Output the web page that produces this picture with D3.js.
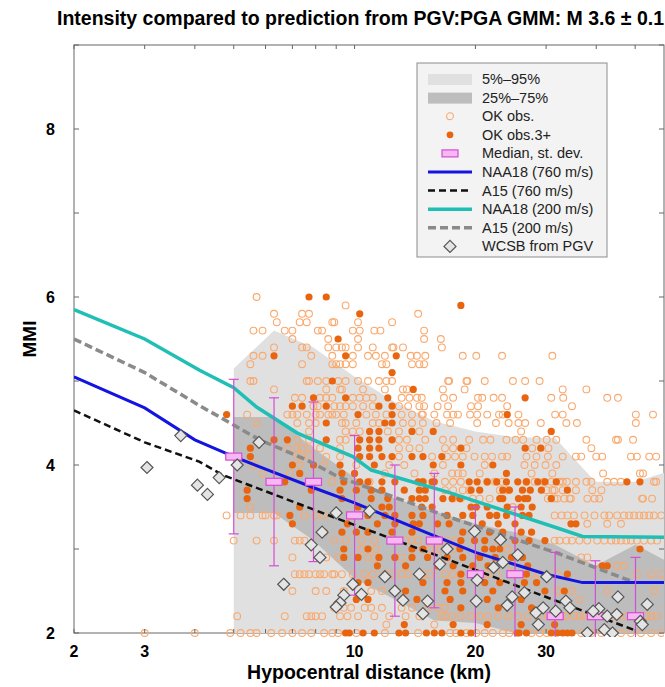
<!DOCTYPE html>
<html>
<head>
<meta charset="utf-8">
<script src="https://cdn.jsdelivr.net/npm/d3@7"></script>
<style>
  body { margin: 0; background: #fff; }
  text { font-family: "Liberation Sans", Arial, sans-serif; }
</style>
</head>
<body>
<div id="chart"></div>
<script>
// MMI vs hypocentral distance, observations + GMM predictions

// binned statistics (log-spaced bins)
var binKm = [5.0, 6.3, 7.9, 10, 12.6, 15.8, 20, 25.1, 31.6, 39.8, 50.1];
var binMedian = [4.1, 3.8, 3.8, 3.4, 3.1, 3.1, 2.7, 2.7, 2.2, 2.2, 2.2];
var binStdev = [0.92, 1.0, 0.95, 0.95, 0.9, 0.8, 0.8, 0.8, 0.76, 0.66, 0.7];

var bandKm = [5.0, 6.3, 7.9, 10, 12.6, 15.8, 20, 25.1, 31.6, 39.8, 50.1, 63.1];
var p05 = [2.0, 2.0, 2.0, 2.0, 2.0, 2.0, 2.0, 2.0, 2.0, 2.0, 2.0, 2.0];
var p95 = [5.15, 5.6, 5.4, 5.05, 4.75, 4.52, 4.4, 4.33, 4.32, 3.8, 3.8, 3.95];
var p25 = [3.43, 3.43, 3.1, 2.65, 2.4, 2.15, 2.12, 2.0, 2.0, 2.0, 2.0, 2.0];
var p75 = [4.57, 4.57, 4.2, 3.85, 3.6, 3.45, 3.3, 3.2, 3.05, 2.8, 3.05, 2.8];

// model curves [km, MMI]
var naa18_760 = [[2, 5.05], [3, 4.68], [4, 4.3], [5, 4.1], [6, 3.95], [8, 3.72], [10, 3.55], [15, 3.2], [20, 2.96], [30, 2.7], [37, 2.6], [60, 2.6]];
var a15_760 = [[2, 4.65], [3, 4.27], [4.1, 4.04], [4.7, 3.88], [9.2, 3.35], [17.2, 2.87], [32.3, 2.37], [49.5, 2.04]];
var naa18_200 = [[2, 5.85], [3, 5.5], [4.1, 5.13], [5, 4.92], [5.7, 4.69], [7.2, 4.38], [9.9, 4.1], [11, 3.94], [17, 3.68], [32, 3.25], [37, 3.15], [60, 3.14]];
var a15_200 = [[2, 5.5], [3, 5.1], [4.1, 4.71], [5.8, 4.3], [7.6, 4.06], [9.1, 3.86], [17.2, 3.38], [32, 2.95], [50, 2.6]];

// OK observations, grouped by MMI level: [MMI, [km...]]
var okObs = [
  [6.0, [5.7]],
  [5.9, [9.5]],
  [5.8, [6.3, 7.4, 7.7, 14.4]],
  [5.7, [6.4, 7.3, 7.6, 8.8, 8.9, 10.2, 12.4]],
  [5.6, [5.6, 5.9, 6.7, 7.0, 8.1, 8.3, 9.9, 10.3, 11.2, 11.6, 14.9]],
  [5.5, [7.0, 8.6, 10.2, 14.9, 16.4]],
  [5.4, [6.3, 7.4, 7.6, 8.6, 9.0, 9.3, 9.5, 10.2, 11.1, 12.4, 12.5, 13.2, 16.5]],
  [5.3, [5.6, 5.9, 7.8, 8.8, 9.9, 10.8, 11.3, 11.9, 13.8, 14.3, 15.0, 18.6, 20.1, 23.3, 31.1]],
  [5.2, [5.5, 7.4, 8.8, 9.0, 9.2, 9.5, 9.9, 11.7, 12.0, 13.9, 14.5, 14.9]],
  [5.0, [5.5, 5.6, 7.6, 7.7, 8.1, 8.5, 9.1, 9.5, 10.2, 10.8, 11.5, 12.0, 12.4, 17.1, 17.2, 19.0, 19.1, 21.1, 24.8, 26.6, 28.9]],
  [4.9, [6.3, 8.5, 9.2, 9.3, 10.5, 11.9, 13.2, 13.5, 16.6, 18.8, 33.0, 37.8]],
  [4.8, [7.1, 7.4, 8.2, 8.5, 8.8, 9.9, 10.3, 10.7, 11.1, 13.1, 13.7, 14.3, 14.7, 16.7, 17.6, 20.3, 20.8, 22.2, 23.3, 30.9, 33.1, 42.6, 45.3]],
  [4.7, [7.9, 8.1, 8.9, 9.2, 9.5, 9.9, 10.5, 11.1, 12.9, 13.6, 14.5, 14.9, 16.1, 17.1, 19.5, 20.3, 24.0, 34.8]],
  [4.6, [5.4, 6.8, 7.0, 7.2, 7.6, 8.0, 8.2, 8.6, 8.8, 9.0, 9.4, 10.7, 11.3, 12.0, 13.1, 13.9, 14.7, 14.8, 15.8, 17.0, 17.6, 18.1, 19.4, 20.2, 21.4, 22.9, 23.4, 25.6, 31.6, 33.0, 50.2, 55.4]],
  [4.5, [5.7, 7.2, 7.7, 8.0, 9.3, 9.5, 10.1, 11.1, 11.5, 13.2, 13.9, 14.8, 16.0, 17.3, 20.2, 22.5, 24.2, 25.6, 26.6, 29.1, 33.7, 35.8, 50.2]],
  [4.4, [7.7, 9.5, 9.9, 10.3, 12.1, 12.9, 14.5, 26.0]],
  [4.3, [7.2, 7.7, 9.2, 9.5, 12.9, 13.5, 15.0, 16.6, 17.6, 19.3, 20.9, 21.8, 23.9, 25.2, 26.3, 28.4, 30.1, 31.8, 37.8, 44.8, 45.3, 49.4]],
  [4.2, [6.8, 7.2, 7.4, 7.7, 8.2, 9.2, 12.9, 13.7, 14.5, 16.8, 17.6, 19.0, 27.7, 30.4, 38.9]],
  [4.1, [7.2, 7.4, 7.7, 8.5, 9.2, 12.9, 15.6, 17.0, 17.8, 18.6, 19.9, 21.1, 22.0, 23.3, 24.0, 26.8, 28.4, 30.3, 33.0, 35.6, 36.7, 40.0, 41.4, 48.8, 50.5, 54.2, 56.4]],
  [4.0, [5.6, 7.3, 8.4, 10.1, 12.2, 13.3, 16.6, 21.1, 26.5, 28.1, 29.9, 31.8]],
  [3.9, [5.9, 6.9, 11.9, 14.1, 15.8, 17.5, 18.1, 18.6, 20.5, 27.6, 31.1, 41.6, 51.4, 52.3]],
  [3.8, [8.8, 10.9, 14.8, 16.8, 17.6, 18.4, 21.4, 22.4, 23.3, 26.8, 28.1, 29.6, 30.9, 32.4, 33.0, 33.8, 35.6, 37.8, 38.9, 42.6, 44.3, 46.1, 55.7, 56.4]],
  [3.7, [16.8, 17.6, 18.6, 19.3, 23.0, 24.0, 30.1, 31.1, 31.5, 33.0, 35.6, 39.1, 41.2]],
  [3.6, [17.6, 18.4, 19.7, 20.5, 21.7, 30.3, 31.5, 32.0, 33.3, 34.3, 34.6, 38.0, 39.6, 40.7, 52.0, 52.3, 55.1]],
  [3.5, [5.5, 24.8]],
  [3.4, [4.8, 5.2, 5.5, 5.9, 6.0, 6.3, 6.4, 7.5, 8.0, 8.4, 31.5, 32.8, 33.9, 35.2, 37.4, 39.6, 41.9, 43.1, 45.1, 46.9, 48.3, 49.7, 51.2, 52.6, 54.2, 55.7, 58.1]],
  [3.3, [38.0, 42.6, 46.1]],
  [3.1, [5.0, 5.7, 6.3, 7.1, 7.3, 7.5, 8.9, 9.5, 10.4, 11.2, 13.4, 13.9, 14.4, 17.0, 17.8, 22.8, 31.5, 32.4, 33.7, 34.8, 36.3, 38.0, 40.2, 41.9, 43.6, 44.8, 46.1, 47.5, 48.8, 50.5, 52.6, 54.8, 56.7]],
  [3.0, [10.4, 11.3, 15.4, 16.3, 17.6, 24.0]],
  [2.9, [7.0, 8.5, 9.1, 10.8, 11.2, 13.1, 36.7, 38.0]],
  [2.8, [24.6, 45.1, 46.9]],
  [2.7, [7.1, 7.3, 7.5, 7.7, 8.0, 8.2, 8.4, 8.8, 8.9, 9.3, 9.9, 10.6, 11.1, 11.9, 12.4, 13.1, 13.6, 14.8, 15.4, 16.8, 17.6, 21.5, 22.6, 26.2, 27.6, 28.9, 32.0, 50.5, 54.8, 58.1]],
  [2.5, [7.0, 8.0, 8.5, 9.4, 11.0, 11.7, 32.0, 34.8, 42.6, 55.7]],
  [2.4, [36.3]],
  [2.3, [8.9, 9.4, 9.8, 10.6, 11.0, 11.7, 13.1, 13.9, 15.2, 16.1, 16.8]],
  [2.2, [5.1, 6.7, 7.6, 7.8, 8.0, 8.3, 9.2, 9.6, 10.2, 11.2, 12.2, 13.4, 14.5, 16.5, 16.8, 17.5, 18.4, 19.5, 20.5, 21.5, 22.8, 24.2, 25.5, 27.0, 28.6, 30.3, 31.8, 32.0, 32.8, 33.5, 35.2, 36.3, 37.4, 38.5, 40.2, 41.9, 44.3, 45.6, 47.7, 49.7, 51.2, 53.5, 54.8, 56.7]],
  [2.1, [12.0, 15.8]],
  [2.0, [3.0, 4.0, 4.9, 5.2, 5.5, 5.7, 6.2, 6.6, 7.0, 7.4, 7.8, 8.4, 8.8, 9.1, 10.1, 11.9, 14.4, 17.3, 17.9, 19.0, 20.1, 21.1, 22.1, 23.4, 24.3, 27.6, 28.9, 30.1, 36.7, 38.9, 41.2, 43.6, 46.1, 48.8, 51.7, 54.8, 58.1]]
];

// OK observations with 3+ reports
var okObs3 = [
  [6.0, [7.7, 8.5]],
  [5.9, [18.4]],
  [5.8, [10.3]],
  [5.5, [9.1]],
  [5.3, [6.3, 9.5, 12.7]],
  [5.1, [12.4]],
  [5.0, [8.8]],
  [4.9, [14.0]],
  [4.8, [7.9, 9.5, 12.1, 26.6]],
  [4.7, [7.0, 7.4, 8.5, 11.5, 12.4]],
  [4.6, [4.8, 10.2, 12.4, 24.0]],
  [4.5, [8.5, 11.9, 12.4]],
  [4.4, [10.9, 11.5, 13.9, 15.7, 30.9]],
  [4.3, [6.3, 6.8, 8.5, 10.3, 10.9, 11.5, 12.4]],
  [4.2, [5.5, 10.2, 10.9, 11.5, 18.4, 26.6, 29.1]],
  [4.1, [5.5, 10.3, 10.9, 11.7, 12.4, 13.9, 14.8, 16.5]],
  [4.0, [7.0, 7.9, 9.2, 11.2, 15.7, 18.4, 22.1]],
  [3.9, [7.3, 9.3, 10.0, 23.9]],
  [3.8, [6.7, 9.4, 10.3, 10.8, 11.7, 12.6, 14.4, 14.8, 15.6, 15.8, 19.3, 20.2, 21.4, 22.6, 23.9, 25.5, 26.8, 28.6, 29.8, 31.8, 47.7, 51.4]],
  [3.7, [5.4, 7.8, 9.2, 10.1, 11.0, 11.7, 13.3, 14.5, 15.0, 19.5, 20.5, 23.4, 24.3, 26.2, 27.4, 29.2, 33.9]],
  [3.6, [5.4, 9.3, 11.0, 12.1, 13.9, 14.5, 15.0, 16.6, 17.5, 18.3, 23.0, 23.4, 25.6, 26.5, 27.0, 30.9]],
  [3.5, [7.3, 10.2, 11.7, 12.2, 14.7, 15.6, 19.5, 20.1, 21.4, 24.0, 26.0, 27.7]],
  [3.4, [6.9, 10.8, 11.9, 12.6, 13.9, 14.8, 17.0, 18.6, 19.7, 21.7, 22.6, 23.9, 26.2, 27.2]],
  [3.3, [7.0, 9.6, 11.4, 12.6, 14.0, 14.5, 16.1, 17.2, 20.8, 22.8, 25.1, 34.6, 35.6]],
  [3.2, [8.4, 9.3, 10.1, 10.8, 12.4, 13.9, 18.6, 21.7, 23.4, 26.0, 27.6]],
  [3.1, [12.4, 18.4, 19.9, 21.1, 25.1, 27.2, 29.8]],
  [3.0, [9.4, 10.8, 13.9, 14.8, 18.3, 21.1, 22.1, 23.0, 51.4]],
  [2.9, [9.4, 10.2, 11.5, 12.6, 13.9, 15.2, 17.0, 18.6, 20.5, 22.4, 24.6, 26.2]],
  [2.8, [11.4, 13.4, 16.1, 17.6, 19.7, 21.5, 27.0, 41.4, 42.6]],
  [2.7, [18.4, 25.4, 26.8, 33.9]],
  [2.6, [10.2, 10.8, 14.8, 17.0, 18.4, 21.1, 23.0, 26.5, 28.4]],
  [2.5, [13.4, 16.8, 18.6, 22.1, 29.8, 33.3]],
  [2.4, [10.1, 10.8, 14.3, 17.3, 21.4, 26.0]],
  [2.3, [18.4, 22.8, 27.6]],
  [2.1, [13.3, 17.6, 21.4, 26.0, 31.5]],
  [2.0, [9.5, 9.7, 10.5, 11.2, 12.9, 13.4, 15.1, 15.8, 16.5, 18.4, 19.5, 25.4, 25.7, 26.8, 30.9, 32.0, 33.0, 33.9, 34.8]]
];

// WCSB intensities from PGV [km, MMI]
var wcsb = [[3.04, 3.97], [3.69, 4.35], [4.06, 3.76], [4.3, 3.65], [4.6, 3.85], [5.1, 4.0], [5.78, 4.27],
  [6.66, 2.58], [7.8, 3.05], [8.2, 2.9], [8.3, 3.2], [9.0, 3.43], [10.9, 3.45], [9.9, 2.58], [9.4, 2.45],
  [9.2, 2.36], [9.0, 2.31], [10.4, 2.46], [11.9, 2.67], [12.6, 2.5], [13.2, 2.39], [14.5, 2.7], [15.2, 2.38],
  [14.8, 2.23], [16.3, 2.82], [17.0, 3.0], [19.9, 3.21], [23.1, 3.11], [25.5, 2.93], [23.4, 2.84], [22.2, 2.78],
  [20.2, 2.63], [20.1, 2.38], [24.7, 2.43], [24.0, 2.33], [26.5, 2.48], [30.1, 2.67], [28.3, 2.24], [29.5, 2.3],
  [28.7, 2.1], [31.7, 2.26], [33.6, 2.38], [34.4, 2.3], [38.0, 2.0], [40.6, 2.29], [39.3, 2.26], [42.6, 2.2],
  [45.0, 2.22], [41.9, 2.04], [43.9, 2.0], [45.3, 2.43], [51.5, 2.14], [52.1, 2.1], [53.6, 2.34]];

var xTickLabels = [2, 3, 10, 20, 30];
var xMinorTicks = [2, 3, 4, 5, 6, 7, 8, 9, 10, 20, 30, 40, 50];
var yTickLabels = [2, 4, 6, 8];
var yMinorTicks = [2, 3, 4, 5, 6, 7, 8, 9];

var legendItems = ["5%\u201395%", "25%\u201375%", "OK obs.", "OK obs.3+", "Median, st. dev.",
  "NAA18 (760 m/s)", "A15 (760 m/s)", "NAA18 (200 m/s)", "A15 (200 m/s)", "WCSB from PGV"];

var width = 665, height = 687;
var pL = 74, pR = 664, pT = 45, pB = 633;

var col = {
  light: "#e0e0e0", dark: "#bdbdbd",
  open: "#f9a96e", filled: "#e8640e",
  pink: "#f8b6f2", magenta: "#d24ed6",
  blue: "#1414e0", teal: "#1fbfb5", black: "#111", gray: "#8a8a8a",
  frame: "#666"
};

var svg = d3.select("#chart").append("svg")
  .attr("width", width)
  .attr("height", height);

var x = d3.scaleLog().domain([2, 59]).range([pL, pR]);
var y = d3.scaleLinear().domain([2, 9]).range([pB, pT]);

svg.append("defs").append("clipPath").attr("id", "plotclip")
  .append("rect").attr("x", pL).attr("y", pT)
  .attr("width", pR - pL).attr("height", pB - pT + 4);

// frame
svg.append("rect")
  .attr("x", pL).attr("y", pT)
  .attr("width", pR - pL).attr("height", pB - pT)
  .attr("fill", "none").attr("stroke", col.frame).attr("stroke-width", 1);

var plot = svg.append("g").attr("clip-path", "url(#plotclip)");

// bands
function band(lo, hi) {
  return d3.area()
    .x(function(d, i) { return x(bandKm[i]); })
    .y0(function(d, i) { return y(lo[i]); })
    .y1(function(d, i) { return y(hi[i]); })(bandKm);
}
plot.append("path").attr("d", band(p05, p95)).attr("fill", col.light);
plot.append("path").attr("d", band(p25, p75)).attr("fill", col.dark);

// axes ticks (inward)
var ax = svg.append("g").attr("stroke", col.frame).attr("stroke-width", 1);
xMinorTicks.forEach(function(t) {
  ax.append("line").attr("x1", x(t)).attr("x2", x(t)).attr("y1", pB).attr("y2", pB - 4);
  ax.append("line").attr("x1", x(t)).attr("x2", x(t)).attr("y1", pT).attr("y2", pT + 4);
});
yMinorTicks.forEach(function(t) {
  ax.append("line").attr("x1", pL).attr("x2", pL + 5).attr("y1", y(t)).attr("y2", y(t));
  ax.append("line").attr("x1", pR).attr("x2", pR - 5).attr("y1", y(t)).attr("y2", y(t));
});

// observations
function flat(rows) {
  var out = [];
  rows.forEach(function(r) {
    r[1].forEach(function(km) { out.push([km, r[0]]); });
  });
  return out;
}

plot.selectAll(".ok")
  .data(flat(okObs))
  .enter().append("circle")
  .attr("cx", d => x(d[0]))
  .attr("cy", d => y(d[1]))
  .attr("r", 3.4)
  .attr("fill", "none")
  .attr("stroke", col.open)
  .attr("stroke-width", 1.1);

plot.selectAll(".ok3")
  .data(flat(okObs3))
  .enter().append("circle")
  .attr("cx", d => x(d[0]))
  .attr("cy", d => y(d[1]))
  .attr("r", 3.6)
  .attr("fill", col.filled);

// model curves
var line = d3.line().x(d => x(d[0])).y(d => y(d[1]));
plot.append("path").attr("d", line(naa18_200)).attr("fill", "none")
  .attr("stroke", col.teal).attr("stroke-width", 3.5);
plot.append("path").attr("d", line(a15_200)).attr("fill", "none")
  .attr("stroke", col.gray).attr("stroke-width", 3.5).attr("stroke-dasharray", "8,4");
plot.append("path").attr("d", line(naa18_760)).attr("fill", "none")
  .attr("stroke", col.blue).attr("stroke-width", 3);
plot.append("path").attr("d", line(a15_760)).attr("fill", "none")
  .attr("stroke", col.black).attr("stroke-width", 2.5).attr("stroke-dasharray", "7,4");

// median and st. dev.
binKm.forEach(function(km, i) {
  var cx = x(km), m = binMedian[i], s = binStdev[i];
  plot.append("line").attr("x1", cx).attr("x2", cx)
    .attr("y1", y(m + s)).attr("y2", y(m - s))
    .attr("stroke", col.magenta).attr("stroke-width", 1.2);
  [m + s, m - s].forEach(function(v) {
    plot.append("line").attr("x1", cx - 5).attr("x2", cx + 5)
      .attr("y1", y(v)).attr("y2", y(v))
      .attr("stroke", col.magenta).attr("stroke-width", 1.2);
  });
  plot.append("rect").attr("x", cx - 8).attr("y", y(m) - 3.5)
    .attr("width", 16).attr("height", 7)
    .attr("fill", col.pink).attr("stroke", col.magenta).attr("stroke-width", 1.2);
});

// WCSB diamonds
var diamond = "M0,-6L6,0L0,6L-6,0Z";
plot.selectAll(".wcsb")
  .data(wcsb)
  .enter().append("path")
  .attr("d", diamond)
  .attr("transform", d => "translate(" + x(d[0]) + "," + y(d[1]) + ")")
  .attr("fill", "#e4e4e4")
  .attr("stroke", "#555")
  .attr("stroke-width", 1.2);

// tick labels
var tickFont = "bold 16px 'Liberation Sans', Arial, sans-serif";
xTickLabels.forEach(function(t) {
  svg.append("text").attr("x", x(t)).attr("y", 657)
    .attr("text-anchor", "middle").style("font", tickFont).text(t);
});
yTickLabels.forEach(function(t) {
  svg.append("text").attr("x", 55).attr("y", y(t) + 6)
    .attr("text-anchor", "end").style("font", tickFont).text(t);
});

// titles
svg.append("text").attr("x", 57).attr("y", 25)
  .style("font", "bold 19.5px 'Liberation Sans', Arial, sans-serif")
  .text("Intensity compared to prediction from PGV:PGA GMM: M 3.6 \u00b1 0.1");

svg.append("text").attr("x", 369).attr("y", 679)
  .attr("text-anchor", "middle")
  .style("font", "bold 19.5px 'Liberation Sans', Arial, sans-serif")
  .text("Hypocentral distance (km)");

svg.append("text")
  .attr("transform", "translate(36," + (pT + pB) / 2 + ") rotate(-90)")
  .attr("text-anchor", "middle")
  .style("font", "bold 19px 'Liberation Sans', Arial, sans-serif")
  .text("MMI");

// legend
var lg = svg.append("g").attr("transform", "translate(417,63)");
lg.append("rect").attr("width", 190).attr("height", 194)
  .attr("fill", "#f3f3f3").attr("stroke", "#8c8c8c").attr("stroke-width", 1);

var rowH = 18.6, sx = 33, tx = 65;
legendItems.forEach(function(label, i) {
  var cy = 16 + i * rowH;
  var g = lg.append("g").attr("transform", "translate(0," + cy + ")");
  if (i === 0 || i === 1) {
    g.append("rect").attr("x", sx - 22).attr("y", -5).attr("width", 44).attr("height", 11)
      .attr("fill", i === 0 ? col.light : col.dark);
  } else if (i === 2) {
    g.append("circle").attr("cx", sx).attr("r", 3.4).attr("fill", "none")
      .attr("stroke", col.open).attr("stroke-width", 1.1);
  } else if (i === 3) {
    g.append("circle").attr("cx", sx).attr("r", 3.4).attr("fill", col.filled);
  } else if (i === 4) {
    g.append("rect").attr("x", sx - 8).attr("y", -3.5).attr("width", 16).attr("height", 7)
      .attr("fill", col.pink).attr("stroke", col.magenta).attr("stroke-width", 1.2);
  } else if (i === 9) {
    g.append("path").attr("d", diamond).attr("transform", "translate(" + sx + ",0)")
      .attr("fill", "#e4e4e4").attr("stroke", "#555").attr("stroke-width", 1.2);
  } else {
    var st = [null, null, null, null, null,
      [col.blue, 3, null], [col.black, 2.5, "7,4"], [col.teal, 3.5, null], [col.gray, 3.5, "8,4"]][i];
    g.append("line").attr("x1", sx - 22).attr("x2", sx + 22)
      .attr("stroke", st[0]).attr("stroke-width", st[1])
      .attr("stroke-dasharray", st[2]);
  }
  g.append("text").attr("x", tx).attr("y", 5)
    .style("font", "14.5px 'Liberation Sans', Arial, sans-serif")
    .attr("fill", "#222").text(label);
});
</script>
</body>
</html>
